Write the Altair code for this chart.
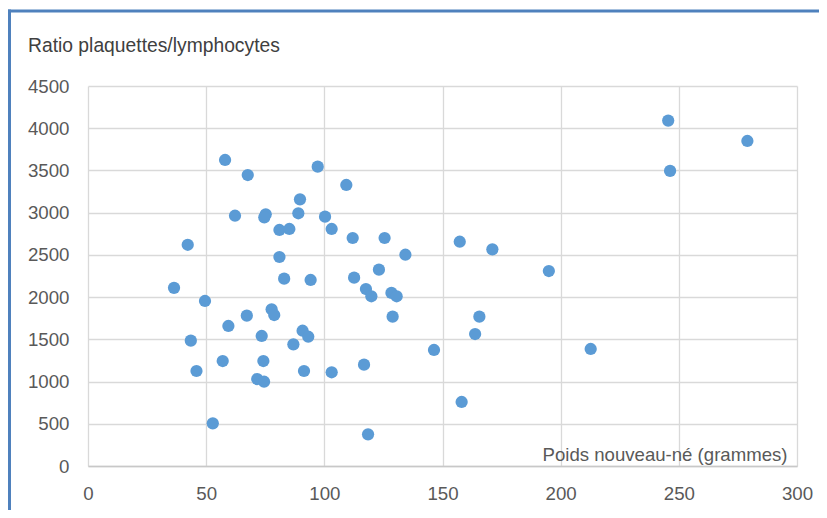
import altair as alt
import pandas as pd

# Poids nouveau-né (grammes)
poids = [36.4, 42.2, 43.5, 45.9, 49.5, 52.8, 58.0, 57.0, 59.4, 62.2,
         67.6, 67.2, 71.6, 74.5, 73.5, 74.2, 75.2, 74.6, 81.0, 81.0,
         85.2, 83.0, 77.7, 78.8, 86.9, 89.7, 89.0, 97.2, 94.2, 100.3,
         103.1, 109.3, 112.0, 125.5, 134.3, 157.3, 171.1, 195.0, 112.6, 123.1,
         117.6, 119.9, 128.4, 130.6, 128.9, 165.6, 163.8, 146.4, 158.1, 118.5,
         116.8, 103.1, 91.4, 90.8, 93.2, 245.5, 279.0, 246.3, 212.7]
# Ratio plaquettes/lymphocytes
ratio = [2110, 2620, 1484, 1125, 1954, 505, 3624, 1243, 1658, 2964,
         3446, 1780, 1030, 998, 1540, 1243, 2981, 2945, 2475, 2795,
         2807, 2218, 1856, 1788, 1441, 3158, 2993, 3545, 2203, 2953,
         2807, 3328, 2700, 2700, 2502, 2656, 2566, 2309, 2230, 2325,
         2096, 2010, 2050, 2010, 1768, 1768, 1563, 1374, 758, 375,
         1200, 1110, 1125, 1602, 1531, 4090, 3849, 3494, 1386]

x_ticks = [0, 50, 100, 150, 200, 250, 300]
y_ticks = [0, 500, 1000, 1500, 2000, 2500, 3000, 3500, 4000, 4500]

df = pd.DataFrame({"poids": poids, "ratio": ratio})

W, H = 709, 380
FONT = "Liberation Sans"
BORDER = "#4F81BD"

points = alt.Chart(df).mark_circle(size=150, color="#5B9BD5", opacity=1).encode(
    x=alt.X("poids:Q",
            scale=alt.Scale(domain=[0, 300], nice=False),
            axis=alt.Axis(values=x_ticks, format="d", labelFlush=False,
                          title="Poids nouveau-né (grammes)",
                          titleX=W - 10, titleY=-6, titleAlign="right",
                          titleBaseline="alphabetic", titleAngle=0,
                          labelPadding=18, tickSize=0,
                          domainColor="#C8C8C8", domainWidth=1.6)),
    y=alt.Y("ratio:Q",
            scale=alt.Scale(domain=[0, 4500], nice=False),
            axis=alt.Axis(values=y_ticks, format="d", title=None,
                          labelFlush=False,
                          labelPadding=19, tickSize=0, domain=False)),
)

border_left = alt.Chart().mark_rule(color=BORDER, strokeWidth=3).encode(
    x=alt.value(-78.5), y=alt.value(-76.5), y2=alt.value(H + 50))
border_top = alt.Chart().mark_rule(color=BORDER, strokeWidth=3).encode(
    x=alt.value(-80), x2=alt.value(W + 30), y=alt.value(-75))

chart = alt.layer(points, border_left, border_top).properties(
    width=W, height=H,
    title=alt.TitleParams("Ratio plaquettes/lymphocytes", anchor="start",
                          frame="group", dx=-60, dy=63, offset=0,
                          baseline="alphabetic", font=FONT, fontSize=19.3,
                          fontWeight="normal", color="#404040"),
    padding={"left": 80, "top": 78, "right": 22, "bottom": 44},
    autosize=alt.AutoSizeParams(type="none"),
).configure_view(stroke=None).configure_axis(
    labelFont=FONT, labelFontSize=18.7, labelColor="#595959",
    titleFont=FONT, titleFontSize=18.6, titleColor="#595959",
    titleFontWeight="normal",
    grid=True, gridColor="#D9D9D9", gridWidth=1.3,
)

chart.save("out.html", embed_options={"renderer": "svg", "actions": False})
